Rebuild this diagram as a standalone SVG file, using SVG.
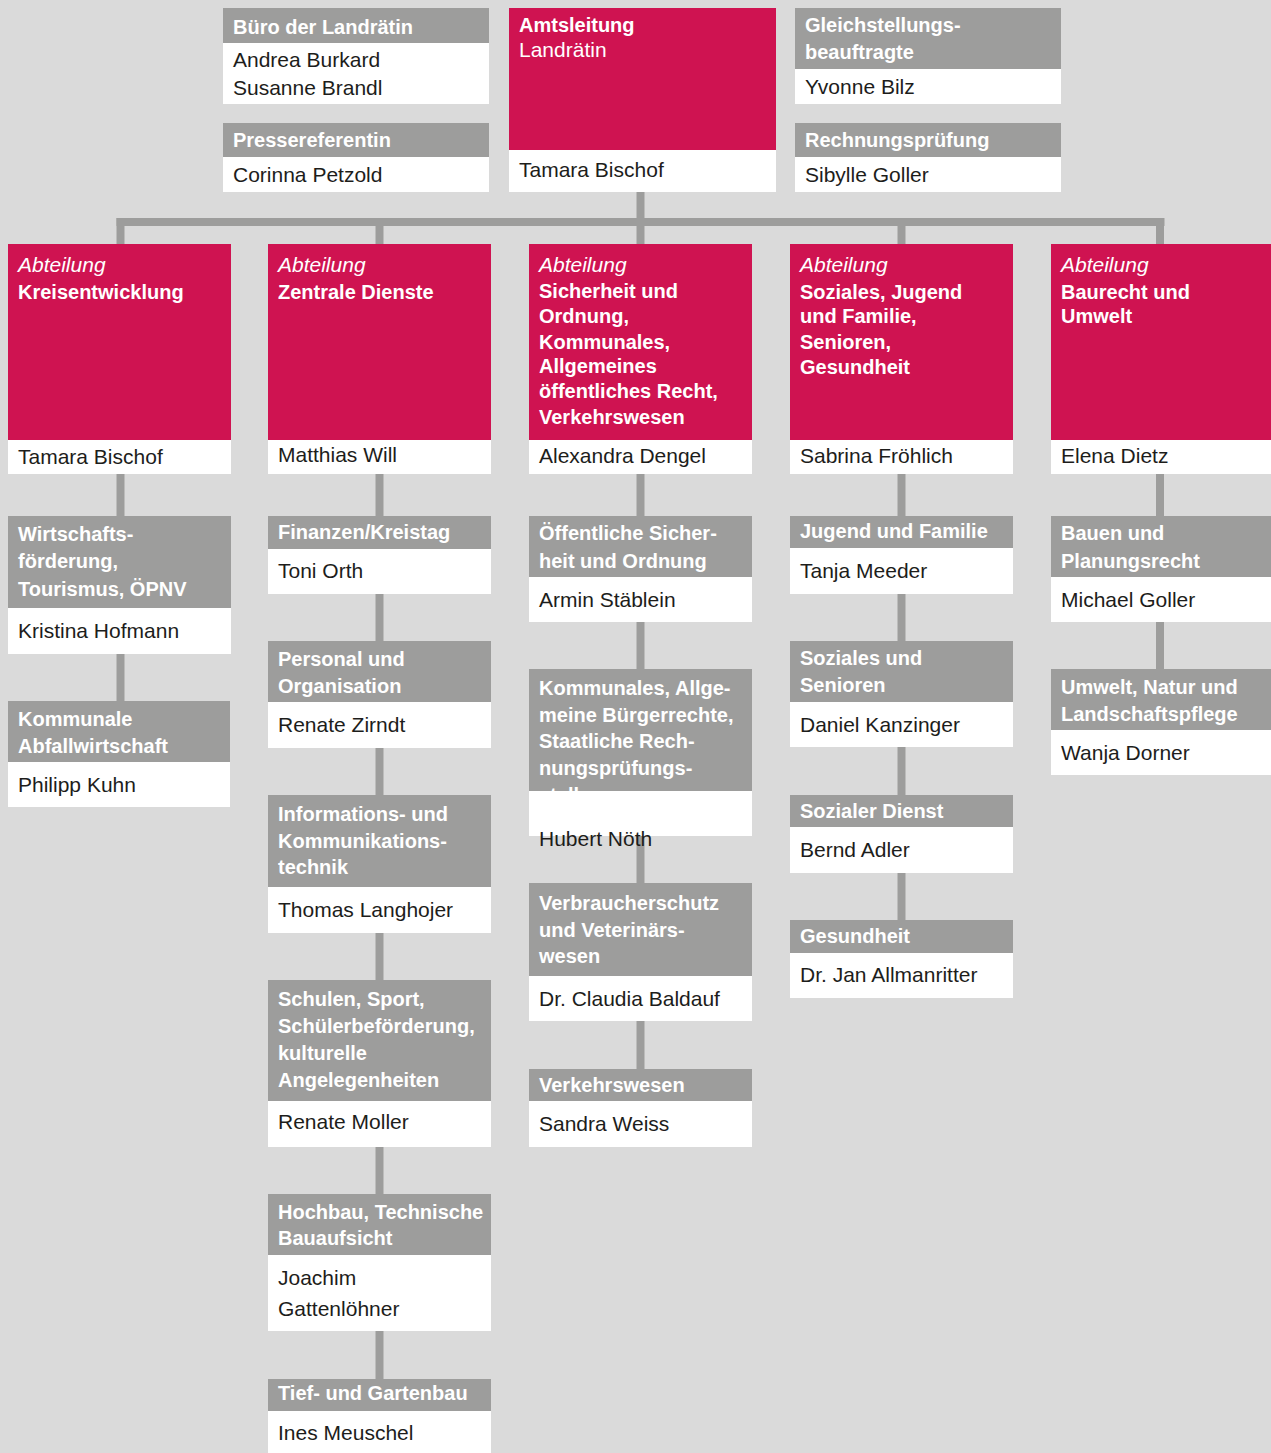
<svg xmlns="http://www.w3.org/2000/svg" width="1271" height="1453" viewBox="0 0 1271 1453">
<style>
.bg{fill:#dadada}
.red{fill:#cf1351}
.gray{fill:#9d9d9c}
.wh{fill:#ffffff}
.conn{stroke:#9d9d9c;stroke-width:8;fill:none;stroke-linecap:butt}
text{font-family:"Liberation Sans",Arial,sans-serif}
.h{font-size:20px;font-weight:bold;fill:#ffffff}
.n{font-size:21px;fill:#1d1d1b}
.it{font-size:21px;font-style:italic;fill:#ffffff}
.lw{font-size:21px;fill:#ffffff}
</style>
<rect class="bg" x="0" y="0" width="1271" height="1453"/>

<g id="connectors">
<path class="conn" d="M116.5 222 H1164.5"/>
<path class="conn" d="M120.5 218 V701"/>
<path class="conn" d="M379.5 218 V1379"/>
<path class="conn" d="M640.5 192 V1069"/>
<path class="conn" d="M901.5 218 V920"/>
<path class="conn" d="M1160 218 V669"/>
</g>

<!-- top row -->
<g id="buero">
<rect class="gray" x="223" y="8" width="266" height="35"/>
<rect class="wh" x="223" y="43" width="266" height="61"/>
<text class="h" x="233" y="34">Büro der Landrätin</text>
<text class="n" x="233" y="67">Andrea Burkard</text>
<text class="n" x="233" y="95">Susanne Brandl</text>
</g>
<g id="presse">
<rect class="gray" x="223" y="123" width="266" height="34"/>
<rect class="wh" x="223" y="157" width="266" height="35"/>
<text class="h" x="233" y="147">Pressereferentin</text>
<text class="n" x="233" y="182">Corinna Petzold</text>
</g>
<g id="amtsleitung">
<rect class="red" x="509" y="8" width="267" height="142"/>
<rect class="wh" x="509" y="150" width="267" height="42"/>
<text class="h" x="519" y="32">Amtsleitung</text>
<text class="lw" x="519" y="57">Landrätin</text>
<text class="n" x="519" y="177">Tamara Bischof</text>
</g>
<g id="gleichstellung">
<rect class="gray" x="795" y="8" width="266" height="61"/>
<rect class="wh" x="795" y="69" width="266" height="35"/>
<text class="h" x="805" y="32">Gleichstellungs-</text>
<text class="h" x="805" y="59">beauftragte</text>
<text class="n" x="805" y="94">Yvonne Bilz</text>
</g>
<g id="rechnungspruefung">
<rect class="gray" x="795" y="123" width="266" height="34"/>
<rect class="wh" x="795" y="157" width="266" height="35"/>
<text class="h" x="805" y="147">Rechnungsprüfung</text>
<text class="n" x="805" y="182">Sibylle Goller</text>
</g>

<!-- column 1 -->
<g id="abt-kreisentwicklung">
<rect class="red" x="8" y="244" width="223" height="196"/>
<rect class="wh" x="8" y="440" width="223" height="34"/>
<text class="it" x="18" y="272">Abteilung</text>
<text class="h" x="18" y="299">Kreisentwicklung</text>
<text class="n" x="18" y="464">Tamara Bischof</text>
</g>
<g id="wirtschaft">
<rect class="gray" x="8" y="516" width="223" height="92"/>
<rect class="wh" x="8" y="608" width="223" height="46"/>
<text class="h" x="18" y="541">Wirtschafts-</text>
<text class="h" x="18" y="568">förderung,</text>
<text class="h" x="18" y="596">Tourismus, ÖPNV</text>
<text class="n" x="18" y="638">Kristina Hofmann</text>
</g>
<g id="abfall">
<rect class="gray" x="8" y="701" width="222" height="61"/>
<rect class="wh" x="8" y="762" width="222" height="45"/>
<text class="h" x="18" y="726">Kommunale</text>
<text class="h" x="18" y="753">Abfallwirtschaft</text>
<text class="n" x="18" y="792">Philipp Kuhn</text>
</g>

<!-- column 2 -->
<g id="abt-zentrale-dienste">
<rect class="red" x="268" y="244" width="223" height="196"/>
<rect class="wh" x="268" y="440" width="223" height="34"/>
<text class="it" x="278" y="272">Abteilung</text>
<text class="h" x="278" y="299">Zentrale Dienste</text>
<text class="n" x="278" y="462">Matthias Will</text>
</g>
<g id="finanzen">
<rect class="gray" x="268" y="516" width="223" height="33"/>
<rect class="wh" x="268" y="549" width="223" height="45"/>
<text class="h" x="278" y="539">Finanzen/Kreistag</text>
<text class="n" x="278" y="578">Toni Orth</text>
</g>
<g id="personal">
<rect class="gray" x="268" y="641" width="223" height="61"/>
<rect class="wh" x="268" y="702" width="223" height="46"/>
<text class="h" x="278" y="666">Personal und</text>
<text class="h" x="278" y="693">Organisation</text>
<text class="n" x="278" y="732">Renate Zirndt</text>
</g>
<g id="iuk">
<rect class="gray" x="268" y="795" width="223" height="92"/>
<rect class="wh" x="268" y="887" width="223" height="46"/>
<text class="h" x="278" y="821">Informations- und</text>
<text class="h" x="278" y="848">Kommunikations-</text>
<text class="h" x="278" y="874">technik</text>
<text class="n" x="278" y="917">Thomas Langhojer</text>
</g>
<g id="schulen">
<rect class="gray" x="268" y="980" width="223" height="121"/>
<rect class="wh" x="268" y="1101" width="223" height="46"/>
<text class="h" x="278" y="1006">Schulen, Sport,</text>
<text class="h" x="278" y="1033">Schülerbeförderung,</text>
<text class="h" x="278" y="1060">kulturelle</text>
<text class="h" x="278" y="1087">Angelegenheiten</text>
<text class="n" x="278" y="1129">Renate Moller</text>
</g>
<g id="hochbau">
<rect class="gray" x="268" y="1194" width="223" height="61"/>
<rect class="wh" x="268" y="1255" width="223" height="76"/>
<text class="h" x="278" y="1219">Hochbau, Technische</text>
<text class="h" x="278" y="1245">Bauaufsicht</text>
<text class="n" x="278" y="1285">Joachim</text>
<text class="n" x="278" y="1316">Gattenlöhner</text>
</g>
<g id="tiefbau">
<rect class="gray" x="268" y="1379" width="223" height="32"/>
<rect class="wh" x="268" y="1411" width="223" height="42"/>
<text class="h" x="278" y="1400">Tief- und Gartenbau</text>
<text class="n" x="278" y="1440">Ines Meuschel</text>
</g>

<!-- column 3 -->
<g id="abt-sicherheit">
<rect class="red" x="529" y="244" width="223" height="196"/>
<rect class="wh" x="529" y="440" width="223" height="34"/>
<text class="it" x="539" y="272">Abteilung</text>
<text class="h" x="539" y="298">Sicherheit und</text>
<text class="h" x="539" y="323">Ordnung,</text>
<text class="h" x="539" y="349">Kommunales,</text>
<text class="h" x="539" y="373">Allgemeines</text>
<text class="h" x="539" y="398">öffentliches Recht,</text>
<text class="h" x="539" y="424">Verkehrswesen</text>
<text class="n" x="539" y="463">Alexandra Dengel</text>
</g>
<g id="oeffentliche-sicherheit">
<rect class="gray" x="529" y="516" width="223" height="61"/>
<rect class="wh" x="529" y="577" width="223" height="45"/>
<text class="h" x="539" y="540">Öffentliche Sicher-</text>
<text class="h" x="539" y="568">heit und Ordnung</text>
<text class="n" x="539" y="607">Armin Stäblein</text>
</g>
<g id="kommunales">
<rect class="gray" x="529" y="669" width="223" height="122"/>
<text class="h" x="539" y="695">Kommunales, Allge-</text>
<text class="h" x="539" y="722">meine Bürgerrechte,</text>
<text class="h" x="539" y="748">Staatliche Rech-</text>
<text class="h" x="539" y="775">nungsprüfungs-</text>
<text class="h" x="539" y="802">stelle</text>
<rect class="wh" x="529" y="791" width="223" height="45"/>
<text class="n" x="539" y="846">Hubert Nöth</text>
</g>
<g id="verbraucherschutz">
<rect class="gray" x="529" y="883" width="223" height="93"/>
<rect class="wh" x="529" y="976" width="223" height="45"/>
<text class="h" x="539" y="910">Verbraucherschutz</text>
<text class="h" x="539" y="937">und Veterinärs-</text>
<text class="h" x="539" y="963">wesen</text>
<text class="n" x="539" y="1006">Dr. Claudia Baldauf</text>
</g>
<g id="verkehrswesen">
<rect class="gray" x="529" y="1069" width="223" height="32"/>
<rect class="wh" x="529" y="1101" width="223" height="46"/>
<text class="h" x="539" y="1092">Verkehrswesen</text>
<text class="n" x="539" y="1131">Sandra Weiss</text>
</g>

<!-- column 4 -->
<g id="abt-soziales">
<rect class="red" x="790" y="244" width="223" height="196"/>
<rect class="wh" x="790" y="440" width="223" height="34"/>
<text class="it" x="800" y="272">Abteilung</text>
<text class="h" x="800" y="299">Soziales, Jugend</text>
<text class="h" x="800" y="323">und Familie,</text>
<text class="h" x="800" y="349">Senioren,</text>
<text class="h" x="800" y="374">Gesundheit</text>
<text class="n" x="800" y="463">Sabrina Fröhlich</text>
</g>
<g id="jugend">
<rect class="gray" x="790" y="516" width="223" height="32"/>
<rect class="wh" x="790" y="548" width="223" height="46"/>
<text class="h" x="800" y="538">Jugend und Familie</text>
<text class="n" x="800" y="578">Tanja Meeder</text>
</g>
<g id="senioren">
<rect class="gray" x="790" y="641" width="223" height="61"/>
<rect class="wh" x="790" y="702" width="223" height="45"/>
<text class="h" x="800" y="665">Soziales und</text>
<text class="h" x="800" y="692">Senioren</text>
<text class="n" x="800" y="732">Daniel Kanzinger</text>
</g>
<g id="sozialer-dienst">
<rect class="gray" x="790" y="795" width="223" height="32"/>
<rect class="wh" x="790" y="827" width="223" height="46"/>
<text class="h" x="800" y="818">Sozialer Dienst</text>
<text class="n" x="800" y="857">Bernd Adler</text>
</g>
<g id="gesundheit">
<rect class="gray" x="790" y="920" width="223" height="33"/>
<rect class="wh" x="790" y="953" width="223" height="45"/>
<text class="h" x="800" y="943">Gesundheit</text>
<text class="n" x="800" y="982">Dr. Jan Allmanritter</text>
</g>

<!-- column 5 -->
<g id="abt-baurecht">
<rect class="red" x="1051" y="244" width="223" height="196"/>
<rect class="wh" x="1051" y="440" width="223" height="34"/>
<text class="it" x="1061" y="272">Abteilung</text>
<text class="h" x="1061" y="299">Baurecht und</text>
<text class="h" x="1061" y="323">Umwelt</text>
<text class="n" x="1061" y="463">Elena Dietz</text>
</g>
<g id="bauen">
<rect class="gray" x="1051" y="516" width="223" height="61"/>
<rect class="wh" x="1051" y="577" width="223" height="45"/>
<text class="h" x="1061" y="540">Bauen und</text>
<text class="h" x="1061" y="568">Planungsrecht</text>
<text class="n" x="1061" y="607">Michael Goller</text>
</g>
<g id="umwelt">
<rect class="gray" x="1051" y="669" width="223" height="61"/>
<rect class="wh" x="1051" y="730" width="223" height="45"/>
<text class="h" x="1061" y="694">Umwelt, Natur und</text>
<text class="h" x="1061" y="721">Landschaftspflege</text>
<text class="n" x="1061" y="760">Wanja Dorner</text>
</g>
</svg>
